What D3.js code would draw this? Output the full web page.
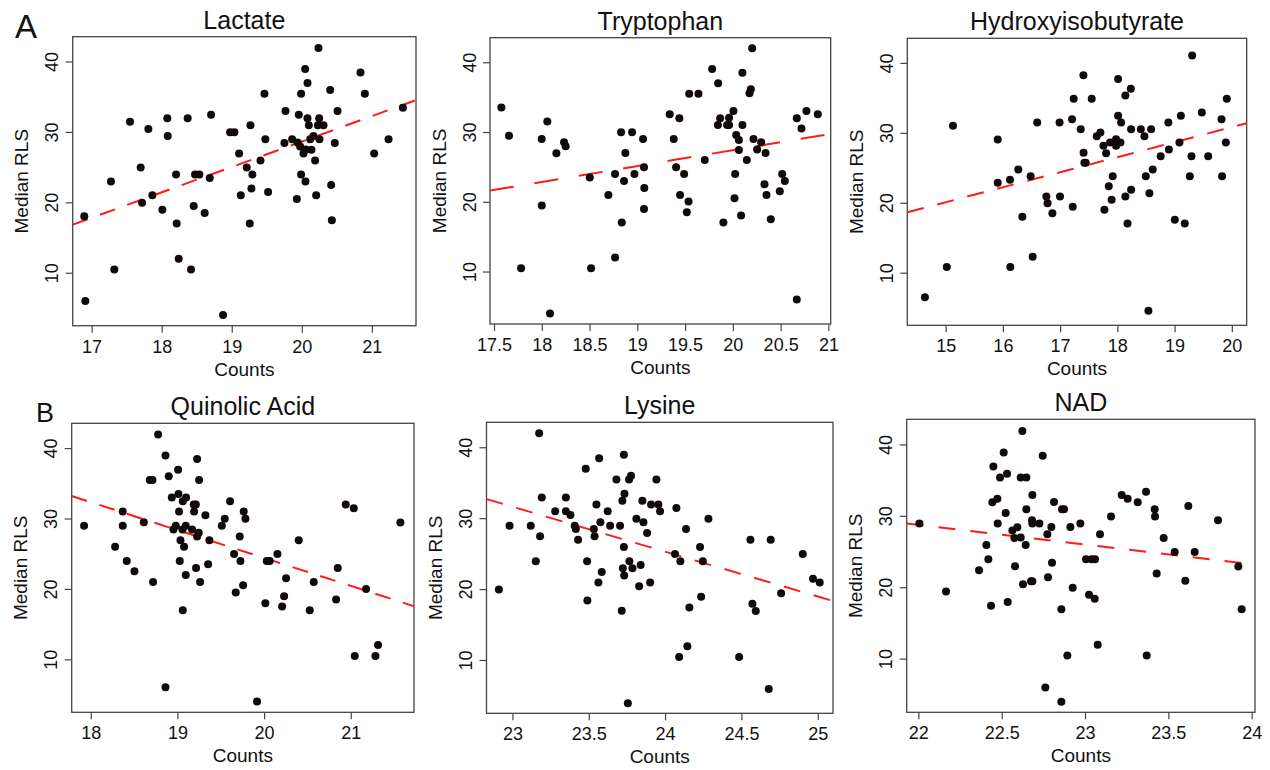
<!DOCTYPE html>
<html>
<head>
<meta charset="utf-8">
<script src="https://cdn.jsdelivr.net/npm/d3@7/dist/d3.min.js"></script>
<style>
    body { margin: 0; background: #fff; }
    svg { display: block; font-family: Arial, 'Liberation Sans', sans-serif; }
</style>
</head>
<body>
<svg id="chart" width="1270" height="770"></svg>
<script>
'use strict';

// [Counts, Median RLS]
var lactatePoints = [
    [16.895, 18.02], [16.91, 5.99], [17.276, 22.97], [17.324, 10.47], [17.548, 31.46], [17.70, 24.95],
    [17.81, 30.42], [17.72, 19.95], [17.867, 20.99], [18.01, 18.96], [18.08, 31.93], [18.086, 29.43],
    [18.205, 23.96], [18.214, 16.98], [18.243, 11.98], [18.371, 31.93], [18.419, 10.47], [18.457, 19.48],
    [18.476, 23.96], [18.538, 23.96], [18.614, 18.49], [18.686, 23.44], [18.705, 32.45], [18.876, 4.01],
    [18.976, 29.95], [19.038, 29.95], [19.105, 26.93], [19.129, 20.99], [19.214, 24.95], [19.267, 30.94],
    [19.295, 23.96], [19.281, 21.98], [19.257, 16.98], [19.41, 25.94], [19.467, 35.42], [19.48, 28.96],
    [19.519, 21.46], [19.752, 28.44], [19.767, 32.97], [19.862, 28.96], [19.929, 20.47], [19.957, 32.45],
    [19.99, 35.42], [19.94, 28.5], [19.99, 23.96], [19.976, 27.92], [20.024, 26.93], [20.052, 22.97],
    [20.048, 38.92], [20.081, 36.93], [20.081, 31.93], [20.10, 30.94], [20.12, 28.96], [20.138, 27.45],
    [20.167, 29.43], [20.19, 25.94], [20.205, 20.99], [20.238, 41.93], [20.248, 31.93], [20.229, 30.94],
    [20.252, 28.96], [20.31, 30.94], [20.405, 35.94], [20.419, 22.45], [20.429, 17.45], [20.471, 28.44],
    [20.51, 32.97], [20.838, 38.44], [20.90, 35.42], [21.033, 26.93], [21.238, 28.96], [21.443, 33.44],
    [20.057, 27.5]
];
var tryptophanPoints = [
    [17.577, 33.5], [17.657, 29.48], [17.783, 10.48], [17.999, 29.0], [18.0, 19.46], [18.058, 31.49],
    [18.086, 3.98], [18.153, 26.95], [18.233, 28.53], [18.25, 27.96], [18.502, 23.47], [18.516, 10.48],
    [18.697, 20.98], [18.767, 23.99], [18.767, 12.0], [18.83, 29.96], [18.837, 17.02], [18.861, 22.99],
    [18.875, 27.0], [18.945, 29.96], [18.97, 23.99], [19.06, 29.0], [19.07, 24.95], [19.073, 21.99],
    [19.07, 18.98], [19.339, 32.54], [19.381, 29.0], [19.406, 24.95], [19.44, 31.97], [19.447, 20.98],
    [19.49, 23.99], [19.536, 20.03], [19.518, 18.5], [19.543, 35.5], [19.64, 35.5], [19.706, 26.0],
    [19.783, 39.04], [19.846, 36.98], [19.867, 31.97], [19.843, 31.01], [19.901, 17.02], [19.94, 31.01],
    [19.96, 32.06], [19.96, 31.01], [20.006, 33.02], [20.024, 23.99], [20.017, 20.51], [20.035, 29.58],
    [20.063, 28.86], [20.063, 27.43], [20.086, 18.02], [20.10, 38.51], [20.10, 31.01], [20.146, 26.0],
    [20.174, 35.55], [20.188, 36.12], [20.202, 42.0], [20.216, 29.0], [20.254, 27.48], [20.296, 28.53],
    [20.342, 27.0], [20.331, 22.51], [20.352, 20.98], [20.397, 17.5], [20.491, 21.51], [20.516, 23.99],
    [20.544, 22.99], [20.669, 31.97], [20.669, 5.99], [20.718, 30.49], [20.77, 33.02], [20.889, 32.54]
];
var hydroxyPoints = [
    [14.638, 6.48], [15.02, 10.81], [15.128, 31.0], [15.91, 29.05], [15.91, 22.86], [16.13, 10.81],
    [16.124, 23.29], [16.27, 24.76], [16.34, 18.0], [16.485, 23.81], [16.52, 12.29], [16.6, 31.48],
    [16.76, 20.9], [16.78, 19.95], [16.865, 18.52], [16.99, 31.48], [16.998, 20.9], [17.209, 31.95],
    [17.22, 19.43], [17.237, 34.86], [17.36, 30.52], [17.407, 38.24], [17.41, 27.14], [17.424, 25.71],
    [17.447, 25.71], [17.552, 34.86], [17.64, 29.52], [17.704, 30.05], [17.757, 28.14], [17.774, 19.0],
    [17.803, 27.1], [17.85, 22.38], [17.872, 28.62], [17.9, 20.43], [17.919, 23.81], [17.978, 29.1],
    [17.978, 28.14], [18.013, 37.71], [18.013, 32.43], [18.054, 28.62], [18.066, 31.48], [18.14, 35.33],
    [18.14, 20.9], [18.177, 17.05], [18.235, 36.29], [18.24, 21.86], [18.24, 30.52], [18.41, 30.52],
    [18.473, 29.52], [18.497, 23.81], [18.543, 4.57], [18.56, 21.38], [18.59, 30.52], [18.618, 24.76],
    [18.757, 26.67], [18.891, 31.48], [18.9, 27.62], [19.004, 17.57], [19.085, 28.62], [19.11, 32.43],
    [19.178, 17.05], [19.266, 23.81], [19.295, 26.67], [19.307, 41.05], [19.476, 32.9], [19.587, 26.67],
    [19.82, 31.95], [19.83, 23.81], [19.895, 28.62], [19.912, 34.86]
];
var quinolicPoints = [
    [17.923, 28.96], [18.281, 25.99], [18.369, 30.99], [18.369, 28.96], [18.415, 23.96], [18.504, 22.5],
    [18.612, 29.48], [18.681, 35.47], [18.712, 35.47], [18.719, 20.99], [18.777, 41.93], [18.862, 38.96],
    [18.862, 6.04], [18.9, 35.99], [18.935, 32.97], [18.954, 28.44], [18.981, 28.96], [19.008, 36.93],
    [19.012, 33.49], [19.019, 30.99], [19.035, 26.93], [19.027, 23.96], [19.058, 28.44], [19.062, 32.45],
    [19.062, 16.98], [19.077, 25.99], [19.1, 32.97], [19.096, 28.96], [19.096, 21.98], [19.169, 28.44],
    [19.188, 31.98], [19.192, 30.99], [19.212, 31.98], [19.215, 22.97], [19.227, 38.44], [19.227, 27.45],
    [19.246, 27.97], [19.25, 35.47], [19.262, 20.99], [19.323, 30.47], [19.354, 23.49], [19.369, 26.93],
    [19.512, 28.96], [19.546, 29.95], [19.608, 32.45], [19.654, 24.95], [19.673, 19.48], [19.719, 27.45],
    [19.727, 23.96], [19.758, 20.52], [19.765, 30.99], [19.785, 29.95], [19.919, 4.01], [20.015, 17.97],
    [20.031, 23.96], [20.065, 23.96], [20.154, 24.95], [20.208, 17.5], [20.231, 18.96], [20.254, 21.51],
    [20.4, 26.93], [20.527, 16.98], [20.573, 20.99], [20.831, 18.49], [20.85, 22.97], [20.942, 31.98],
    [21.035, 31.46], [21.046, 10.47], [21.177, 20.0], [21.285, 10.47], [21.315, 12.03], [21.573, 29.43]
];
var lysinePoints = [
    [22.911, 19.94], [22.981, 28.94], [23.12, 28.94], [23.153, 23.92], [23.175, 41.97], [23.181, 27.44],
    [23.192, 32.93], [23.28, 30.96], [23.35, 32.93], [23.35, 30.96], [23.38, 30.44], [23.408, 28.94],
    [23.415, 28.47], [23.43, 26.97], [23.48, 36.96], [23.489, 23.92], [23.491, 18.39], [23.533, 28.47],
    [23.538, 27.44], [23.55, 31.94], [23.563, 20.92], [23.568, 38.46], [23.576, 29.41], [23.585, 22.42],
    [23.624, 30.96], [23.64, 28.94], [23.681, 35.46], [23.705, 28.94], [23.716, 16.94], [23.72, 32.46],
    [23.723, 22.94], [23.73, 38.93], [23.734, 33.44], [23.73, 25.94], [23.732, 21.91], [23.756, 3.91],
    [23.764, 35.46], [23.766, 23.92], [23.777, 35.97], [23.786, 22.94], [23.812, 29.92], [23.83, 20.41],
    [23.84, 23.41], [23.851, 32.46], [23.858, 29.41], [23.882, 27.91], [23.902, 20.92], [23.908, 31.94],
    [23.943, 35.46], [23.956, 31.94], [23.967, 30.96], [24.065, 24.96], [24.074, 31.43], [24.092, 10.42],
    [24.1, 23.92], [24.137, 28.47], [24.146, 11.92], [24.159, 17.41], [24.229, 25.94], [24.236, 18.91],
    [24.247, 23.92], [24.284, 29.92], [24.485, 10.42], [24.559, 26.97], [24.572, 17.92], [24.594, 16.89],
    [24.679, 5.92], [24.692, 26.97], [24.76, 19.42], [24.902, 24.96], [24.969, 21.44], [25.013, 20.92]
];
var nadPoints = [
    [22.006, 28.91], [22.166, 19.41], [22.364, 22.39], [22.408, 25.93], [22.42, 23.93], [22.436, 17.42],
    [22.444, 31.89], [22.45, 36.92], [22.474, 32.4], [22.476, 28.91], [22.49, 35.38], [22.512, 38.87],
    [22.524, 30.41], [22.532, 35.9], [22.536, 17.92], [22.564, 27.93], [22.58, 22.95], [22.576, 26.91],
    [22.594, 28.4], [22.614, 35.38], [22.614, 26.96], [22.624, 41.87], [22.628, 20.43], [22.644, 25.93],
    [22.648, 35.38], [22.648, 30.91], [22.676, 20.85], [22.684, 20.85], [22.684, 32.91], [22.682, 29.38],
    [22.684, 28.91], [22.726, 28.91], [22.746, 38.41], [22.762, 5.95], [22.774, 27.42], [22.778, 21.4],
    [22.798, 28.44], [22.802, 23.42], [22.814, 31.94], [22.858, 16.9], [22.858, 3.95], [22.862, 30.91],
    [22.874, 30.91], [22.894, 10.42], [22.912, 28.44], [22.926, 19.92], [22.972, 28.91], [23.006, 23.93],
    [23.024, 18.94], [23.04, 23.93], [23.06, 23.93], [23.058, 18.39], [23.076, 11.93], [23.09, 27.42],
    [23.156, 29.89], [23.22, 32.91], [23.256, 32.4], [23.316, 31.89], [23.366, 33.38], [23.37, 10.42],
    [23.418, 30.91], [23.42, 29.89], [23.43, 21.93], [23.472, 26.91], [23.538, 24.95], [23.602, 20.9],
    [23.62, 31.38], [23.658, 24.95], [23.798, 29.38], [23.92, 22.9], [23.94, 16.9]
];

// fitted lines: [intercept, slope]
var lactateFit = [-43.57, 3.61];
var tryptophanFit = [-18.2, 2.28];
var hydroxyFit = [-12.13, 2.147];
var quinolicFit = [103.6, -3.96];
var lysineFit = [177.2, -6.33];
var nadFit = [89.45, -2.76];

var lactateTicks = [17, 18, 19, 20, 21];
var tryptophanTicks = [17.5, 18, 18.5, 19, 19.5, 20, 20.5, 21];
var hydroxyTicks = [15, 16, 17, 18, 19, 20];
var quinolicTicks = [18, 19, 20, 21];
var lysineTicks = [23, 23.5, 24, 24.5, 25];
var nadTicks = [22, 22.5, 23, 23.5, 24];
var rlsTicks = [10, 20, 30, 40];

var titles = ['Lactate', 'Tryptophan', 'Hydroxyisobutyrate', 'Quinolic Acid', 'Lysine', 'NAD'];
var xDomains = [[16.73, 21.63], [17.458, 21.024], [14.33, 20.26], [17.78, 21.73], [22.83, 25.10], [21.93, 24.02]];
var rlsDomain = [2.48, 43.52];

(function (d3) {

    // plot boxes in pixels: left, top, right, bottom, dash pattern
    var boxes = [
        { l: 72.7, t: 36.7, r: 416, b: 325.7, dash: '16,13' },
        { l: 490, t: 37.7, r: 830.7, b: 324, dash: '24,21' },
        { l: 907.3, t: 38.3, r: 1246.7, b: 325.3, dash: '17,14' },
        { l: 71.7, t: 423.3, r: 414, b: 712.3, dash: '16,13' },
        { l: 486.5, t: 422.3, r: 833, b: 713.3, dash: '17,14' },
        { l: 906.7, t: 419.3, r: 1255, b: 712.3, dash: '17,15' }
    ];

    var pointSets = [lactatePoints, tryptophanPoints, hydroxyPoints, quinolicPoints, lysinePoints, nadPoints];
    var fits = [lactateFit, tryptophanFit, hydroxyFit, quinolicFit, lysineFit, nadFit];
    var tickSets = [lactateTicks, tryptophanTicks, hydroxyTicks, quinolicTicks, lysineTicks, nadTicks];

    var svg = d3.select('#chart');

    function drawPanel(i) {
        var box = boxes[i];
        var x = d3.scaleLinear().domain(xDomains[i]).range([box.l, box.r]);
        var y = d3.scaleLinear().domain(rlsDomain).range([box.b, box.t]);
        var g = svg.append('g').attr('class', 'panel');

        g.append('clipPath').attr('id', 'clip' + i)
            .append('rect')
            .attr('x', box.l).attr('y', box.t)
            .attr('width', box.r - box.l).attr('height', box.b - box.t);

        // axes
        var xAxis = d3.axisBottom(x).tickValues(tickSets[i]).tickSize(7).tickPadding(4)
            .tickFormat(function (d) { return String(d); });
        var gx = g.append('g').attr('transform', 'translate(0,' + box.b + ')').call(xAxis);
        gx.select('.domain').remove();
        gx.selectAll('line').attr('stroke', '#444').attr('stroke-width', 1.2);
        gx.selectAll('text').attr('font-size', 18).attr('fill', '#111')
            .attr('dy', null).attr('y', 27);

        var yAxis = d3.axisLeft(y).tickValues(rlsTicks).tickSize(7);
        var gy = g.append('g').attr('transform', 'translate(' + box.l + ',0)').call(yAxis);
        gy.select('.domain').remove();
        gy.selectAll('line').attr('stroke', '#444').attr('stroke-width', 1.2);
        gy.selectAll('text').attr('font-size', 18).attr('fill', '#111')
            .attr('x', null).attr('dy', null)
            .attr('text-anchor', 'middle')
            .attr('transform', 'translate(-14.4,0) rotate(-90)');

        // box
        g.append('rect')
            .attr('x', box.l).attr('y', box.t)
            .attr('width', box.r - box.l).attr('height', box.b - box.t)
            .attr('fill', 'none').attr('stroke', '#444').attr('stroke-width', 1.3);

        // fitted line
        var fit = fits[i];
        var xd = xDomains[i];
        g.append('line')
            .attr('clip-path', 'url(#clip' + i + ')')
            .attr('x1', x(xd[0])).attr('y1', y(fit[0] + fit[1] * xd[0]))
            .attr('x2', x(xd[1])).attr('y2', y(fit[0] + fit[1] * xd[1]))
            .attr('stroke', '#ff1a1a').attr('stroke-width', 2)
            .attr('stroke-dasharray', box.dash);

        g.selectAll('.dot')
            .data(pointSets[i])
            .enter()
            .append('circle')
            .attr('class', 'dot')
            .attr('cx', function (d) { return x(d[0]); })
            .attr('cy', function (d) { return y(d[1]); })
            .attr('r', 4)
            .attr('fill', '#120a0a');

        // labels
        g.append('text')
            .attr('x', (box.l + box.r) / 2).attr('y', box.t - 8)
            .attr('text-anchor', 'middle').attr('font-size', 25).attr('fill', '#111')
            .text(titles[i]);
        g.append('text')
            .attr('x', (box.l + box.r) / 2).attr('y', box.b + 50)
            .attr('text-anchor', 'middle').attr('font-size', 19).attr('fill', '#111')
            .text('Counts');
        g.append('text')
            .attr('transform', 'translate(' + (box.l - 44.4) + ',' + ((box.t + box.b) / 2) + ') rotate(-90)')
            .attr('text-anchor', 'middle').attr('font-size', 19).attr('fill', '#111')
            .text('Median RLS');
    }

    for (var i = 0; i < boxes.length; i++) {
        drawPanel(i);
    }

    svg.append('text').attr('x', 15).attr('y', 38.3)
        .attr('font-size', 33).attr('fill', '#111').text('A');
    svg.append('text').attr('x', 36).attr('y', 421.7)
        .attr('font-size', 27).attr('fill', '#111').text('B');

})(d3);
</script>
</body>
</html>
